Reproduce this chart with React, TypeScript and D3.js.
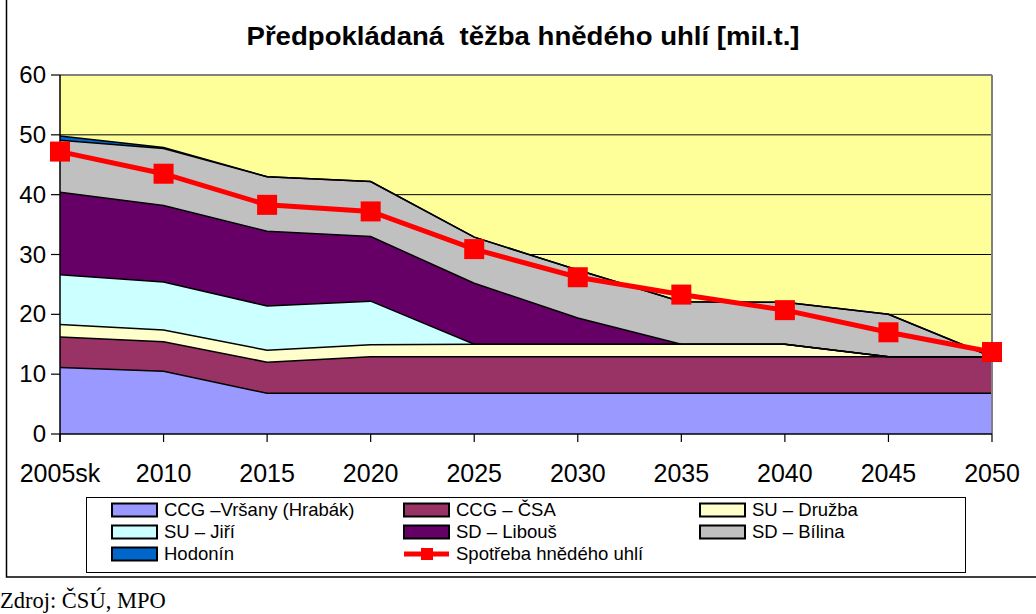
import React from "react";
import * as d3 from "d3";

const categories = ["2005sk", "2010", "2015", "2020", "2025", "2030", "2035", "2040", "2045", "2050"];
const seriesKeys = ["vrsany", "csa", "druzba", "jiri", "libous", "bilina", "hodonin"];
const seriesLabels = ["CCG –Vršany (Hrabák)", "CCG – ČSA", "SU – Družba", "SU – Jiří", "SD – Libouš", "SD – Bílina", "Hodonín"];
const seriesColors = ["#9999FF", "#993366", "#FFFFCC", "#CCFFFF", "#660066", "#C0C0C0", "#0066CC"];

const vrsany = [11.1, 10.5, 6.8, 6.8, 6.8, 6.8, 6.8, 6.8, 6.8, 6.8];
const csa = [5.1, 4.9, 5.2, 6.1, 6.1, 6.1, 6.1, 6.1, 6.1, 6.1];
const druzba = [2.1, 2.0, 2.0, 2.0, 2.1, 2.1, 2.1, 2.1, 0, 0];
const jiri = [8.3, 8.0, 7.4, 7.3, 0, 0, 0, 0, 0, 0];
const libous = [13.8, 12.8, 12.5, 10.8, 10.2, 4.4, 0, 0, 0, 0];
const bilina = [8.7, 9.5, 9.1, 9.2, 7.7, 8.0, 7.1, 7.0, 7.1, 0];
const hodonin = [0.7, 0.2, 0, 0, 0, 0, 0, 0, 0, 0];
const spotreba = [47.2, 43.5, 38.3, 37.2, 30.9, 26.2, 23.3, 20.7, 17.0, 13.7];

const yTicks = [0, 10, 20, 30, 40, 50, 60];
const title = "Předpokládaná  těžba hnědého uhlí [mil.t.]";
const lineLabel = "Spotřeba hnědého uhlí";
const sourceText = "Zdroj: ČSÚ, MPO";

const seriesValues = [vrsany, csa, druzba, jiri, libous, bilina, hodonin];

export default function App() {
  const left = 60, right = 992, top = 75, bottom = 434;
  const x = d3.scalePoint<string>().domain(categories).range([left, right]);
  const y = d3.scaleLinear().domain([0, 60]).range([bottom, top]);

  const rows = categories.map((c, i) => {
    const r: any = { cat: c };
    seriesKeys.forEach((k, j) => (r[k] = seriesValues[j][i]));
    return r;
  });
  const stacked = d3.stack<any>().keys(seriesKeys)(rows);

  const area = d3
    .area<any>()
    .x((d) => x(d.data.cat) as number)
    .y0((d) => y(d[0]))
    .y1((d) => y(d[1]));
  const topLine = d3
    .line<any>()
    .x((d) => x(d.data.cat) as number)
    .y((d) => y(d[1]));
  const redLine = d3
    .line<number>()
    .x((_, i) => x(categories[i]) as number)
    .y((d) => y(d));

  const legendItems = [
    { label: seriesLabels[0], color: seriesColors[0], col: 0, row: 0 },
    { label: seriesLabels[1], color: seriesColors[1], col: 1, row: 0 },
    { label: seriesLabels[2], color: seriesColors[2], col: 2, row: 0 },
    { label: seriesLabels[3], color: seriesColors[3], col: 0, row: 1 },
    { label: seriesLabels[4], color: seriesColors[4], col: 1, row: 1 },
    { label: seriesLabels[5], color: seriesColors[5], col: 2, row: 1 },
    { label: seriesLabels[6], color: seriesColors[6], col: 0, row: 2 },
  ];
  const colX = [112, 404, 700];
  const rowY = [510, 532, 554];

  return (
    <svg
      width={1036}
      height={614}
      style={{ position: "absolute", left: 0, top: 0, background: "#fff" }}
      fontFamily="Arial, 'Liberation Sans', sans-serif"
    >
      <rect x={6.5} y={-5} width={1040} height={582} fill="#fff" stroke="#000" strokeWidth={1.5} />
      <text
        x={523}
        y={45}
        textAnchor="middle"
        fontSize={26}
        fontWeight="bold"
        textLength={553}
        lengthAdjust="spacingAndGlyphs"
        style={{ whiteSpace: "pre" }}
      >
        {title}
      </text>

      <rect x={left} y={top} width={right - left} height={bottom - top} fill="#FFFF99" />
      {yTicks
        .filter((t) => t > 0 && t < 60)
        .map((t) => (
          <line key={t} x1={left} x2={right} y1={y(t)} y2={y(t)} stroke="#000" strokeWidth={1} />
        ))}

      {stacked.map((s, i) => (
        <path key={s.key} d={area(s) as string} fill={seriesColors[i]} stroke="none" />
      ))}
      {stacked.map((s) => (
        <path key={s.key + "l"} d={topLine(s) as string} fill="none" stroke="#000" strokeWidth={1.5} />
      ))}

      <line x1={left} x2={right} y1={top} y2={top} stroke="#808080" strokeWidth={2} />
      <line x1={right} x2={right} y1={top} y2={bottom} stroke="#808080" strokeWidth={2} />

      <line x1={left} x2={left} y1={top} y2={bottom + 8} stroke="#000" strokeWidth={1.5} />
      <line x1={left} x2={right} y1={bottom} y2={bottom} stroke="#000" strokeWidth={1.5} />
      {yTicks.map((t) => (
        <g key={"yt" + t}>
          <line x1={51} x2={left} y1={y(t)} y2={y(t)} stroke="#000" strokeWidth={1.2} />
          <text x={46} y={y(t) + 8} textAnchor="end" fontSize={24}>
            {t}
          </text>
        </g>
      ))}
      {categories.map((c) => (
        <g key={"xt" + c}>
          <line x1={x(c)} x2={x(c)} y1={bottom} y2={bottom + 8} stroke="#000" strokeWidth={1.2} />
          <text x={x(c)} y={482} textAnchor="middle" fontSize={25}>
            {c}
          </text>
        </g>
      ))}

      <path d={redLine(spotreba) as string} fill="none" stroke="#FF0000" strokeWidth={5} />
      {spotreba.map((v, i) => (
        <rect
          key={"m" + i}
          x={(x(categories[i]) as number) - 10}
          y={y(v) - 10}
          width={20}
          height={20}
          fill="#FF0000"
        />
      ))}

      <rect x={86.5} y={497.5} width={879} height={75} fill="#fff" stroke="#000" strokeWidth={1} />
      {legendItems.map((it) => (
        <g key={it.label}>
          <rect x={colX[it.col]} y={rowY[it.row] - 6.5} width={45} height={13} fill={it.color} stroke="#000" strokeWidth={2} />
          <text x={colX[it.col] + 52} y={rowY[it.row] + 6} fontSize={18.5}>
            {it.label}
          </text>
        </g>
      ))}
      <line x1={colX[1]} x2={colX[1] + 45} y1={rowY[2]} y2={rowY[2]} stroke="#FF0000" strokeWidth={5} />
      <rect x={colX[1] + 17} y={rowY[2] - 6} width={12} height={12} fill="#FF0000" />
      <text x={colX[1] + 52} y={rowY[2] + 6} fontSize={18.5}>
        {lineLabel}
      </text>

      <text x={0} y={608} fontSize={22.5} fontFamily="'Liberation Serif', 'Times New Roman', serif">
        {sourceText}
      </text>
    </svg>
  );
}
